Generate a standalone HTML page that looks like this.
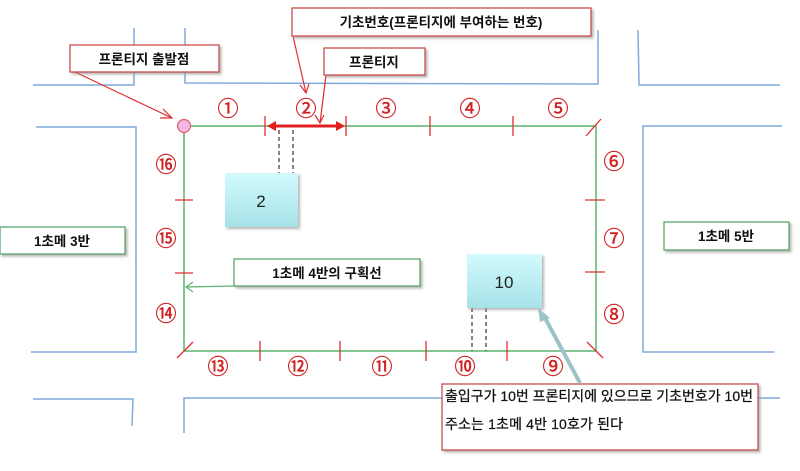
<!DOCTYPE html>
<html><head><meta charset="utf-8"><style>
body{margin:0;background:#fff;width:800px;height:466px;overflow:hidden;font-family:"Liberation Sans","Noto Sans CJK KR",sans-serif}
</style></head><body>
<svg width="800" height="466" xmlns="http://www.w3.org/2000/svg" font-family="Liberation Sans, Noto Sans CJK KR, sans-serif">
<defs>
<linearGradient id="cy" x1="0" y1="0" x2="0" y2="1"><stop offset="0" stop-color="#d2fafd"/><stop offset="1" stop-color="#a6e2e8"/></linearGradient>
<filter id="sh" x="-10%" y="-10%" width="130%" height="140%"><feDropShadow dx="2" dy="2" stdDeviation="1.2" flood-color="#999" flood-opacity="0.7"/></filter>
</defs>
<g stroke="#7fa9dc" stroke-width="1.5" fill="none">
<polyline points="33,85 134,85 134,28"/>
<polyline points="185,28 185,83 598,84 598,30"/>
<polyline points="638,30 639,85 780,85"/>
<polyline points="36,127 136,127 136,352 31,352"/>
<polyline points="782,126 643,126 643,352 774,352"/>
<polyline points="33,399 133,399 132,426"/>
<polyline points="184,433 184,398 780,398"/>
</g>
<rect x="184" y="126" width="412" height="225" fill="none" stroke="#5cb36e" stroke-width="1.5"/>
<g stroke="#e03030" stroke-width="1.3">
<line x1="430" y1="116" x2="430" y2="136"/><line x1="513" y1="116" x2="513" y2="136"/>
<line x1="586" y1="136" x2="601" y2="119"/>
<line x1="585" y1="200" x2="605" y2="200"/><line x1="585" y1="272" x2="605" y2="272"/>
<line x1="587" y1="342" x2="603" y2="358"/>
<line x1="260" y1="341" x2="260" y2="361"/><line x1="340" y1="341" x2="340" y2="361"/>
<line x1="426" y1="341" x2="426" y2="361"/><line x1="507" y1="341" x2="507" y2="361"/>
<line x1="177" y1="358" x2="193" y2="342"/>
<line x1="175" y1="200" x2="193" y2="200"/><line x1="175" y1="273" x2="193" y2="273"/>
<line x1="265" y1="116" x2="265" y2="136"/><line x1="346" y1="116" x2="346" y2="136"/>
</g>
<line x1="272" y1="126" x2="340" y2="126" stroke="#e02020" stroke-width="3"/>
<polygon points="267,126 276,121 276,131" fill="#e02020"/>
<polygon points="345,126 336,121 336,131" fill="#e02020"/>
<circle cx="184" cy="126" r="6.5" fill="#f4b8e6" stroke="#e06060" stroke-width="1.2"/>
<g fill="#d02020" font-size="21" text-anchor="middle" stroke="#d02020" stroke-width="0.4">
<text x="228" y="116">①</text><text x="306" y="116">②</text><text x="386" y="116">③</text><text x="470" y="116">④</text><text x="558" y="116">⑤</text>
<text x="614" y="169">⑥</text><text x="614" y="246">⑦</text><text x="614" y="322">⑧</text>
<text x="553" y="374">⑨</text><text x="465" y="374">⑩</text><text x="382" y="374">⑪</text><text x="298" y="374">⑫</text><text x="218" y="374">⑬</text>
<text x="166" y="321">⑭</text><text x="166" y="246">⑮</text><text x="166" y="172">⑯</text>
</g>
<g stroke="#333" stroke-width="1.2" stroke-dasharray="4,3">
<line x1="279" y1="130" x2="279" y2="173"/><line x1="293" y1="130" x2="293" y2="173"/>
<line x1="472" y1="308" x2="472" y2="351"/><line x1="486" y1="308" x2="486" y2="351"/>
</g>
<rect x="225" y="173" width="73" height="54" fill="url(#cy)" filter="url(#sh)"/>
<text x="261" y="207" font-size="17" text-anchor="middle" fill="#222">2</text>
<rect x="467" y="254" width="75" height="54" fill="url(#cy)" filter="url(#sh)"/>
<text x="504" y="288" font-size="17" text-anchor="middle" fill="#222">10</text>
<g stroke="#e03030" stroke-width="1.2" fill="none">
<line x1="75" y1="72" x2="172" y2="118"/><polyline points="163,109 172,118 160,118"/>
<line x1="293" y1="36" x2="306" y2="93"/><polyline points="300,85 306,93 309,84"/>
<line x1="326" y1="75" x2="320" y2="123"/><polyline points="315,115 320,123 324,115"/>
</g>
<g fill="#fff" stroke="#c84040" stroke-width="1.2" filter="url(#sh)">
<rect x="70" y="45" width="149" height="27"/>
<rect x="292" y="8" width="299" height="28"/>
<rect x="324" y="48" width="101" height="27"/>
<rect x="442" y="384" width="316" height="66"/>
</g>
<g fill="#fff" stroke="#4ca060" stroke-width="1.2" filter="url(#sh)">
<rect x="0" y="227" width="125" height="27"/>
<rect x="664" y="222" width="125" height="28"/>
<rect x="234" y="259" width="186" height="27"/>
</g>
<g stroke="#5cb36e" stroke-width="1.2" fill="none">
<line x1="234" y1="286" x2="186" y2="287"/><polyline points="193,282 186,287 193,292"/>
</g>
<line x1="580" y1="383" x2="545" y2="318" stroke="#9cc4c8" stroke-width="4"/>
<polygon points="538,308 550,318 540,322" fill="#9cc4c8"/>
<g font-size="13.5" fill="#111" text-anchor="middle" font-weight="bold">
<text x="144" y="64">프론티지 출발점</text>
<text x="441" y="27">기초번호(프론티지에 부여하는 번호)</text>
<text x="374" y="67">프론티지</text>
<text x="62" y="246">1초메 3반</text>
<text x="726" y="241">1초메 5반</text>
<text x="327" y="278">1초메 4반의 구획선</text>
</g>
<g font-size="14" fill="#111" stroke="#111" stroke-width="0.25">
<text x="445" y="401" textLength="308">출입구가 10번 프론티지에 있으므로 기초번호가 10번</text>
<text x="445" y="429" textLength="178">주소는  1초메 4반 10호가 된다</text>
</g>
</svg>
</body></html>
